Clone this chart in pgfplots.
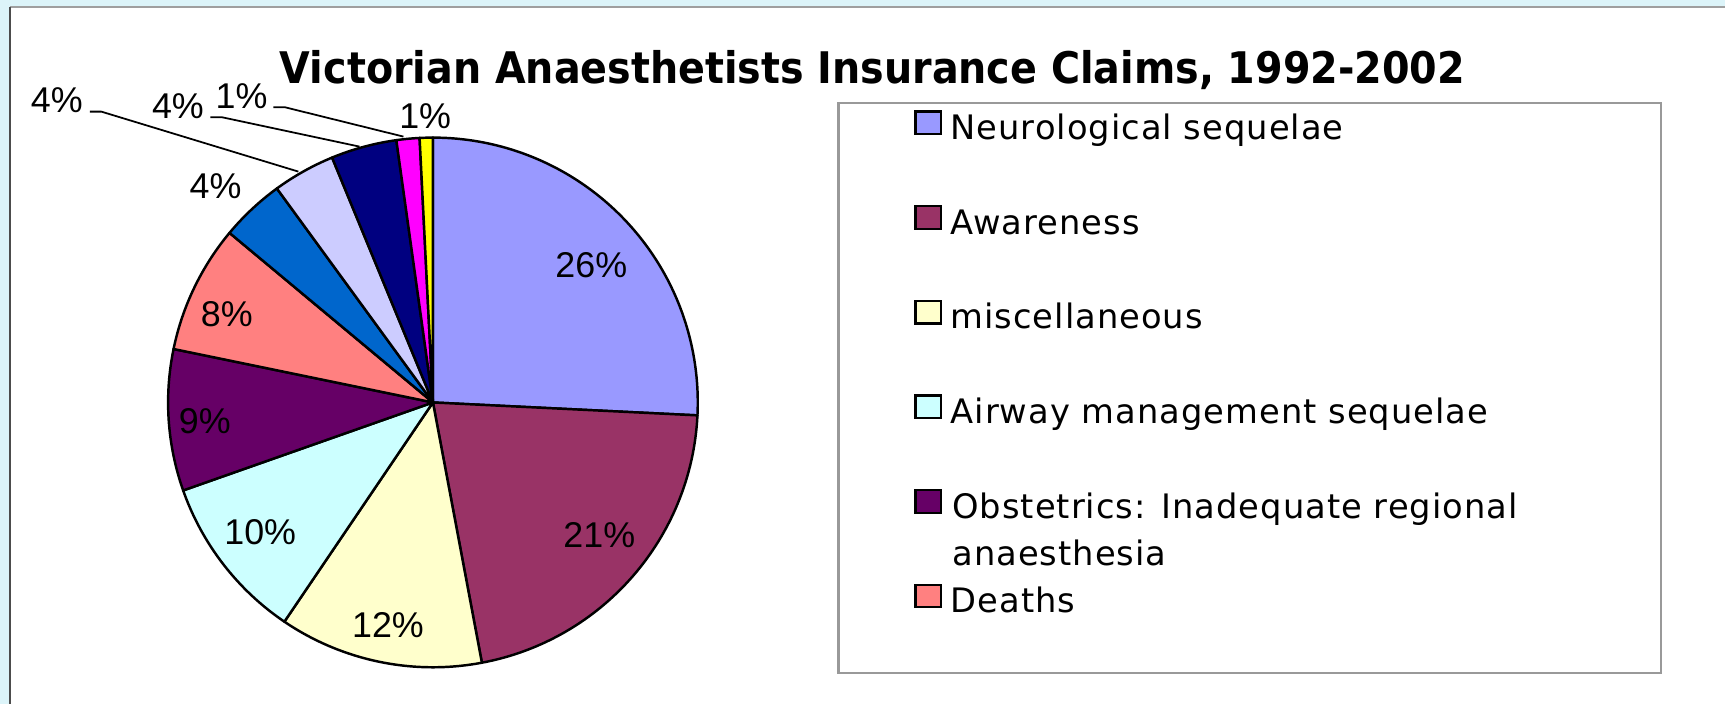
\documentclass[border=0pt]{standalone}
\usepackage{pgfplots}
\pgfplotsset{compat=1.18}
\usepackage{pgfplotstable}
\usepackage{fontspec}
\setmainfont{Liberation Sans}
\newfontfamily\titlefont{DejaVu Sans}[FakeStretch=0.91]
\newfontfamily\legendfont{DejaVu Sans}[LetterSpace=3]

\definecolor{bgcyan}{HTML}{DCF4F9}
\definecolor{pc0}{HTML}{9999FF}
\definecolor{pc1}{HTML}{993366}
\definecolor{pc2}{HTML}{FFFFCC}
\definecolor{pc3}{HTML}{CCFFFF}
\definecolor{pc4}{HTML}{660066}
\definecolor{pc5}{HTML}{FF8080}
\definecolor{pc6}{HTML}{0066CC}
\definecolor{pc7}{HTML}{CCCCFF}
\definecolor{pc8}{HTML}{000080}
\definecolor{pc9}{HTML}{FF00FF}
\definecolor{pc10}{HTML}{FFFF00}

% share of claims (percent), clockwise from 12 o'clock
\pgfplotstableread{
id value
0 25.7
1 21.2
2 12.4
3 10.1
4 8.6
5 7.8
6 3.9
7 3.8
8 4.0
9 1.4
10 0.8
}\piedata

\def\pietotal{0}
\pgfplotstableforeachcolumnelement{value}\of\piedata\as\v{%
  \pgfmathparse{\pietotal+\v}\xdef\pietotal{\pgfmathresult}}
\def\piecum{0}
\pgfplotstableforeachcolumnelement{value}\of\piedata\as\v{%
  \pgfmathparse{90-\piecum/\pietotal*360}%
  \expandafter\xdef\csname piestart\pgfplotstablerow\endcsname{\pgfmathresult}%
  \pgfmathparse{\piecum+\v}\xdef\piecum{\pgfmathresult}%
  \pgfmathparse{90-\piecum/\pietotal*360}%
  \expandafter\xdef\csname pieend\pgfplotstablerow\endcsname{\pgfmathresult}%
}

\def\cx{433.2}
\def\cy{301.3}
\def\R{265}

\pgfplotsset{
  pie legend/.style={legend image code/.code={%
    \filldraw[##1, draw=black, line width=0.6pt] (0pt,-0.85pt) rectangle (7.2pt,5.6pt);}},
}

\begin{document}
\begin{tikzpicture}
\begin{axis}[
  scale only axis,
  width=491.10pt, height=200.31pt,
  xmin=0, xmax=1726, ymin=0, ymax=704,
  disabledatascaling,
  hide axis,
  clip=false,
  legend cell align=left,
  legend style={at={(axis cs:915,593.5)}, anchor=north west, draw=none, fill=none,
    inner sep=0pt, outer sep=0pt, row sep=16.9pt,
    font=\legendfont\fontsize{9.6pt}{11pt}\selectfont,
    nodes={inner sep=0pt, text height=6.5pt, text depth=1.8pt},
    /tikz/every odd column/.append style={column sep=2.5pt}},
]
% background and frame
\fill[bgcyan] (0,0) rectangle (1726,704);
\fill[white] (10,0) rectangle (1726,697);
\draw[gray!75, line width=0.6pt] (10,697) -- (1726,697);
\draw[black!70, line width=0.6pt] (10,0) -- (10,697);

% title
\node[font=\titlefont\bfseries\fontsize{12.4pt}{14pt}\selectfont, anchor=base]
  at (axis cs:873,620.7) {Victorian Anaesthetists Insurance Claims, 1992-2002};

% legend frame
\draw[gray!80, line width=0.6pt] (839,31) rectangle (1662,601);

% pie slices
\pgfplotsinvokeforeach{0,...,10}{
  \filldraw[fill=pc#1, draw=black, line width=0.7pt, line join=round]
    (\cx,\cy) -- ({\cx+\R*cos(\csname piestart#1\endcsname)},{\cy+\R*sin(\csname piestart#1\endcsname)})
    arc[start angle=\csname piestart#1\endcsname, end angle=\csname pieend#1\endcsname, radius=75.40pt]
    -- cycle;
}

% leader lines
\addplot[black, line width=0.5pt, mark=none, forget plot] coordinates {(90,592.3) (101.4,592.3) (298.5,532.3)};
\addplot[black, line width=0.5pt, mark=none, forget plot] coordinates {(210.5,586.7) (222,586.7) (359.7,557.3)};
\addplot[black, line width=0.5pt, mark=none, forget plot] coordinates {(273.6,596.7) (285,596.7) (403.7,567.3)};

% labels
\begin{scope}[every node/.style={font=\fontsize{10.2pt}{12pt}\selectfont, anchor=base, inner sep=0pt}]
\node at (axis cs:591.7,426.7) {26\%};
\node at (axis cs:599.7,155.7) {21\%};
\node at (axis cs:388.2,65.7) {12\%};
\node at (axis cs:260.4,159) {10\%};
\node at (axis cs:204.9,270.7) {9\%};
\node at (axis cs:226.9,377.3) {8\%};
\node at (axis cs:215.6,505.4) {4\%};
\node at (axis cs:56.8,591.3) {4\%};
\node at (axis cs:178,585.7) {4\%};
\node at (axis cs:241.7,595.7) {1\%};
\node at (axis cs:425.4,575.7) {1\%};
\end{scope}

% legend
\addlegendimage{pie legend, fill=pc0}\addlegendentry{Neurological sequelae}
\addlegendimage{pie legend, fill=pc1}\addlegendentry{Awareness}
\addlegendimage{pie legend, fill=pc2}\addlegendentry{miscellaneous}
\addlegendimage{pie legend, fill=pc3}\addlegendentry{Airway management sequelae}
\addlegendimage{pie legend, fill=pc4}\addlegendentry{\smash{\rlap{\parbox[t]{8cm}{\setlength\baselineskip{13.37pt}Obstetrics: Inadequate regional\newline anaesthesia}}}}
\addlegendimage{pie legend, fill=pc5}\addlegendentry{Deaths}
\end{axis}
\end{tikzpicture}
\end{document}
